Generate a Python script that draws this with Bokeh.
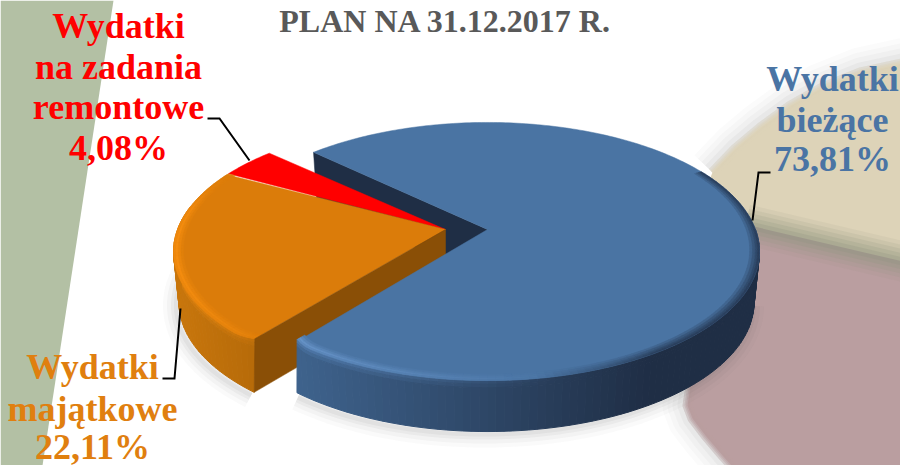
import numpy as np
from bokeh.plotting import figure
from bokeh.core.properties import value
from bokeh.embed import file_html
from bokeh.resources import INLINE

# ---- data
title = "PLAN NA 31.12.2017 R."
categories = ["Wydatki bieżące", "Wydatki majątkowe", "Wydatki na zadania remontowe"]
shares = [73.81, 22.11, 4.08]
share_labels = ["73,81%", "22,11%", "4,08%"]

# ---- pie geometry (one disc in perspective, pixel space of the page)
FIRST_ANGLE = 223.5
CX, CY = 487.0, 229.0
RX, RY, K = 268.0, 125.3, 0.1705
EXPLODE = [0.0, -42.0, -42.0]
DEPTH = 51.0

def rgb(h):
    return np.array([int(h[i:i + 2], 16) for i in (1, 3, 5)], dtype=float)

def mix(a, b, t):
    t = float(np.clip(t, 0, 1))
    c = rgb(a) * (1 - t) + rgb(b) * t
    return "#%02x%02x%02x" % tuple(int(round(v)) for v in c)

# slice angles from the data
spans = [s / sum(shares) * 360 for s in shares]
starts = [FIRST_ANGLE, FIRST_ANGLE + spans[0], FIRST_ANGLE + spans[0] + spans[1]]
ends = [a + b for a, b in zip(starts, spans)]
SPLIT = starts[1] - 360   # blue/orange boundary, on the front of the pie
ORANGE_END = starts[2] - 360

def corner(theta, amount):
    """radius factor that rounds the bevelled corner next to the split"""
    d = abs((theta - SPLIT + 180) % 360 - 180)
    return 1 - amount * (1 - d / 5) ** 2 if d < 5 else 1.0

def top(theta, r=1.0, ox=0.0):
    r = r * corner(theta, 0.02)
    th = np.radians(theta)
    u, v = r * np.cos(th), r * np.sin(th)
    w = 1 - K * v
    return CX + ox + RX * u / w, CY + RY * v / w

def low(theta, r=1.0, ox=0.0):
    th = np.radians(theta)
    u, v = r * np.cos(th), r * np.sin(th)
    w = 1 - K * v
    x, y = CX + ox + RX * u / w, CY + RY * v / w
    return CX + ox + (x - CX - ox) * 0.98, y + DEPTH

p = figure(width=900, height=465, x_range=(0, 900), y_range=(465, 0),
           toolbar_location=None, output_backend="svg", min_border=0,
           outline_line_color=None, background_fill_color="white",
           border_fill_color="white")
p.axis.visible = False
p.grid.visible = False

# ---- backdrop decoration
p.patch([0, 113, 42, 0], [0, 0, 465, 465], fill_color="#B3C0A4", line_color=None)

TAN, MAUVE = "#DDD3B8", "#BA9EA0"
edge_tan_x = [712, 735, 760, 790, 820, 860, 915]
edge_tan_y = [172, 148, 127, 105, 88, 72, 60]
edge_mau_x = [740, 722, 705, 692, 687, 690]
edge_mau_y = [475, 455, 435, 418, 405, 385]
# soft grey halo round the blurred backdrop
for ex, ey in [(edge_tan_x, edge_tan_y), (edge_mau_x, edge_mau_y)]:
    for lw, a in [(50, 0.025), (40, 0.03), (30, 0.04), (20, 0.05), (10, 0.07)]:
        p.line(ex, ey, line_color="#6a6a6a", line_width=lw, line_alpha=a, line_join="round")
p.patch(edge_tan_x + [915, 750, 700], edge_tan_y + [270, 226, 200], fill_color=TAN, line_color=None)
p.patch(edge_mau_x + [700, 745, 915, 915], edge_mau_y + [260, 224, 264, 480], fill_color=MAUVE, line_color=None)
for ex, ey, col in [(edge_tan_x, edge_tan_y, TAN), (edge_mau_x, edge_mau_y, MAUVE)]:
    for lw, a in [(10, 0.30), (6, 0.40), (3, 0.5)]:
        p.line(ex, ey, line_color=col, line_width=lw, line_alpha=a, line_join="round")
for lw, a in [(40, 0.10), (32, 0.14), (24, 0.18), (16, 0.22), (8, 0.26)]:
    p.line([745, 915], [224, 264], line_color="#8F9480", line_width=lw, line_alpha=a)

# ---- ground shadow below the pie
for lw, a in [(26, 0.03), (18, 0.04), (10, 0.05), (4, 0.06)]:
    for a0, a1, ox in [(10, SPLIT, 0.0), (SPLIT, 192, EXPLODE[1])]:
        th = np.arange(a0, a1 + 0.1, 2.0)
        pts = [low(t, 1.0, ox) for t in th]
        p.line([q[0] - 3 for q in pts], [q[1] + 3 for q in pts], line_color="#555555",
               line_width=lw, line_alpha=a)

BANDS = [0.0, 0.07, 0.14, 1.0]

def wall(a0, a1, ox, c_far, c_near, hl, x_far, x_near, hl_l, hl_r):
    xs, ys, cs = [], [], []
    th = np.arange(a0, a1 + 0.01, 1.5)
    for i in range(len(th) - 1):
        for b in range(len(BANDS) - 1):
            t0, t1 = BANDS[b], BANDS[b + 1]
            x1, y1 = top(th[i], 1, ox); x2, y2 = top(th[i + 1], 1, ox)
            x3, y3 = low(th[i + 1], 1, ox); x4, y4 = low(th[i], 1, ox)
            xs.append([x1 + (x4 - x1) * t0, x2 + (x3 - x2) * t0, x2 + (x3 - x2) * t1, x1 + (x4 - x1) * t1])
            ys.append([y1 + (y4 - y1) * t0, y2 + (y3 - y2) * t0, y2 + (y3 - y2) * t1, y1 + (y4 - y1) * t1])
            base = mix(c_far, c_near, (0.5 * (x1 + x2) - x_far) / (x_near - x_far))
            amt = np.clip((hl_r - x1) / (hl_r - hl_l), 0, 1) * [0.45, 0.2, 0.0][b]
            cs.append(mix(base, hl, amt))
    p.patches(xs, ys, fill_color=cs, line_color=cs, line_width=1)

def face(i, color):
    th = np.arange(starts[i], ends[i] + 0.01, 1.0)
    pts = [top(t, 1, EXPLODE[i]) for t in th]
    p.patch([CX + EXPLODE[i]] + [q[0] for q in pts], [CY] + [q[1] for q in pts],
            fill_color=color, line_color=color, line_width=0.5)

def rim(a0, a1, ox, base, hl, hl_l, hl_r, dark=None, fade=False):
    th = np.arange(a0, a1 + 0.01, 1.5)
    for r0, r1, s in [(0.965, 0.975, 0.2), (0.975, 0.985, 0.45), (0.985, 0.993, 0.75), (0.993, 1.0, 0.55)]:
        xs, ys, cs = [], [], []
        for i in range(len(th) - 1):
            a = top(th[i], r0, ox); b = top(th[i + 1], r0, ox)
            c = top(th[i + 1], r1, ox); d = top(th[i], r1, ox)
            xs.append([a[0], b[0], c[0], d[0]]); ys.append([a[1], b[1], c[1], d[1]])
            amt = np.clip((hl_r - a[0]) / (hl_r - hl_l), 0, 1) * s
            if fade:
                amt *= np.clip((a1 - th[i]) / 20, 0, 1)
            col = mix(base, hl, amt)
            if dark:
                col = mix(col, dark, np.clip((a[0] - 540) / 120, 0, 1) * (r1 - 0.965) / 0.035 * 0.75)
            cs.append(col)
        p.patches(xs, ys, fill_color=cs, line_color=cs, line_width=0.5)

BLUE, ORANGE, RED = "#4A74A3", "#DB7C0A", "#FF0000"
NAVY, BROWN = "#1F2E45", "#8A4F06"

# back wall of the blue slice
a_t = top(starts[0]); a_l = low(starts[0])
p.patch([CX, a_t[0], a_l[0], CX], [CY, a_t[1], a_l[1], CY + DEPTH],
        fill_color=NAVY, line_color=NAVY, line_width=0.5)

# orange + red
wall(SPLIT, 192, EXPLODE[1], "#C8760C", "#B66A09", "#FF9412", 175, 255, 170, 300)
face(2, RED)
face(1, ORANGE)
rim(SPLIT, ORANGE_END, EXPLODE[1], ORANGE, "#FF9412", 170, 300, fade=True)
o_t = top(SPLIT, 1, EXPLODE[1]); o_l = low(SPLIT, 1, EXPLODE[1])
ax = CX + EXPLODE[1]
p.patch([ax, o_t[0], o_l[0], ax], [CY, o_t[1], o_l[1], CY + DEPTH],
        fill_color=BROWN, line_color=BROWN, line_width=0.5)

# blue
wall(0, SPLIT, 0, NAVY, "#3E628C", "#5F8EC6", 650, 300, 300, 560)
face(0, BLUE)
rim(-30, SPLIT, 0, BLUE, "#6F9CD2", 300, 560, dark=NAVY)

# ---- leader lines
for lx, ly in [([207, 219, 249], [118, 118, 160]),
               ([180, 174, 162], [308, 378, 378]),
               ([752, 758, 770], [220, 172, 172])]:
    p.line(lx, ly, line_color="black", line_width=2, line_join="miter")

# ---- texts
TEXT_DY = -12
def text(x, y, s, color, size, align="center"):
    p.text([x], [y + TEXT_DY], text=[s], text_color=color, text_align=align, text_baseline="alphabetic",
           text_font=value("Liberation Serif"), text_font_style="bold", text_font_size=size)

TC_B, TC_O, TC_R = "#4A74A4", "#E07F0F", "#FF0000"
text(445, 32, title, "#595959", "32px")
for y, s in zip([37, 78, 118, 159], ["Wydatki", "na zadania", "remontowe", share_labels[2]]):
    text(118, y, s, TC_R, "36px")
for y, s in zip([90, 131, 170], ["Wydatki", "bieżące", share_labels[0]]):
    text(832, y, s, TC_B, "36px")
for y, s in zip([378, 420, 458], ["Wydatki", "majątkowe", share_labels[1]]):
    text(92, y, s, TC_O, "36px")

open("out.html", "w").write(file_html(p, INLINE))
